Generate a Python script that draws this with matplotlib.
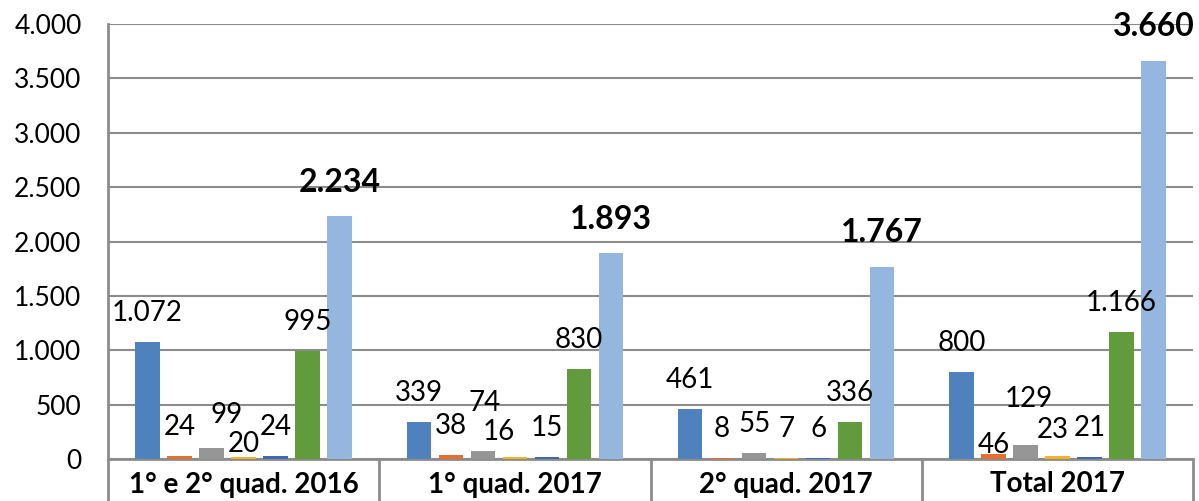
import numpy as np
import matplotlib.pyplot as plt
from matplotlib.ticker import FuncFormatter

plt.rcParams['font.family'] = ['Lato', 'DejaVu Sans']

categorias = ['1° e 2° quad. 2016', '1° quad. 2017', '2° quad. 2017', 'Total 2017']

# uma lista por série (7 séries), valores por categoria
s1 = [1072, 339, 461, 800]
s2 = [24, 38, 8, 46]
s3 = [99, 74, 55, 129]
s4 = [20, 16, 7, 23]
s5 = [24, 15, 6, 21]
s6 = [995, 830, 336, 1166]
s7 = [2234, 1893, 1767, 3660]

series = [s1, s2, s3, s4, s5, s6, s7]
cores = ['#4F81BD', '#E2702E', '#969696', '#F2B22A', '#4268B2', '#629A3E', '#95B7DF']

# ajustes manuais dos rótulos (serie, categoria) -> (dx, dy) em pixels
ajustes = {
    (2, 0): (15, 4), (3, 0): (0, -16),
    (2, 1): (2, 19), (3, 1): (-16, -4),
    (1, 3): (0, -20), (2, 3): (3, 17), (3, 3): (-5, -3),
}

fig = plt.figure(figsize=(11.99, 5.01), dpi=100)
ax = fig.add_axes([108 / 1199, 42 / 501, 1085 / 1199, 435 / 501])

x = np.arange(len(categorias))
passo = 0.118
largura = 0.090

for i, vals in enumerate(series):
    pos = x + (i - 3) * passo
    ax.bar(pos, vals, largura, color=cores[i], zorder=3)
    for j, v in enumerate(vals):
        txt = f'{v:,}'.replace(',', '.')
        dx, dy = ajustes.get((i, j), (0, 0))
        if i == 6:
            ax.annotate(txt, (pos[j], v), xytext=(dx, 34 + dy), textcoords='offset pixels',
                        ha='center', va='center', fontsize=23, fontweight='bold', zorder=5)
        else:
            ax.annotate(txt, (pos[j], v), xytext=(dx, 29 + dy), textcoords='offset pixels',
                        ha='center', va='center', fontsize=20, zorder=5)

ax.set_xlim(-0.5, 3.5)
ax.set_ylim(0, 4000)
ax.set_yticks(range(0, 4001, 500))
ax.yaxis.set_major_formatter(FuncFormatter(lambda v, p: f'{int(v):,}'.replace(',', '.')))
ax.grid(axis='y', color='#8C8C8C', linewidth=1.5, zorder=0)
ax.tick_params(axis='y', length=0, labelsize=19, pad=19)

ax.set_xticks(x)
ax.set_xticklabels(categorias, fontsize=20, fontweight='bold')
ax.set_xticks(np.arange(-0.5, 4, 1), minor=True)
ax.tick_params(axis='x', which='major', length=0, pad=9)
ax.tick_params(axis='x', which='minor', length=32, width=2, color='#8C8C8C')

for lado in ['top', 'right']:
    ax.spines[lado].set_visible(False)
ax.spines['left'].set_color('#8C8C8C')
ax.spines['left'].set_linewidth(2)
ax.spines['bottom'].set_color('#8C8C8C')
ax.spines['bottom'].set_linewidth(2)

plt.savefig('out.png', dpi=100)
